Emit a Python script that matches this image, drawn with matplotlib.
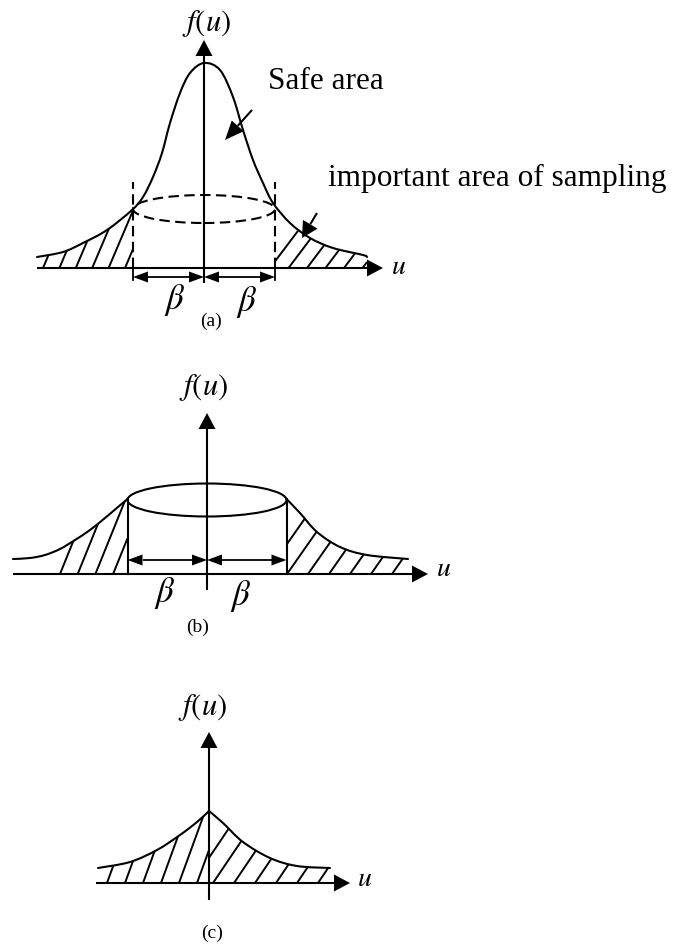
import numpy as np
import matplotlib
matplotlib.use("Agg")
import matplotlib.pyplot as plt
from matplotlib.path import Path
from matplotlib.patches import Polygon, Ellipse, PathPatch
from matplotlib.collections import LineCollection

plt.rcParams["mathtext.fontset"] = "stix"
plt.rcParams["font.family"] = ["Liberation Serif", "DejaVu Serif"]

W, H = 676, 947

# ---- panel (a): bell-shaped density ----
a_u = [-167, -141, -121, -97, -72, -61, -51, -42, -34, -24, -14, 0,
       16, 29, 39, 49, 59, 69, 86, 106, 129, 159, 163]
a_f = [11, 16, 25, 38, 58, 71, 91, 115, 145, 175, 195, 205,
       198, 171, 138, 108, 85, 65, 45, 30, 20, 13, 11]
a_beta = 71
a_ring_f = 59

# ---- panel (b): flattened density with a disc on top ----
b_left_u = [-194, -177, -162, -147, -132, -117, -102, -89, -79.5]
b_left_f = [15, 16, 19, 25, 34, 44, 56, 67, 75]
b_right_u = [79.5, 93, 110, 133, 160, 201]
b_right_f = [75, 61, 42, 27, 19, 15]
b_beta = 79.5
b_ring_f = 74

# ---- panel (c): sharp-peaked density ----
c_left_u = [-111, -79, -52, -29, -12, 0]
c_left_f = [15, 21, 33, 48, 61, 72]
c_right_u = [0, 14, 34, 61, 88, 121]
c_right_f = [72, 60, 41, 25, 17, 15]

LW = 1.5
HLW = 1.4
fig = plt.figure(figsize=(W / 100, H / 100), dpi=100)


def panel_axes(ox, oy, top, bottom):
    ax = fig.add_axes([0, 1 - bottom / H, 1, (bottom - top) / H])
    ax.set_xlim(-ox, W - ox)
    ax.set_ylim(oy - bottom, oy - top)
    ax.axis("off")
    return ax


def smooth(u, f):
    pts = np.column_stack([u, f]).astype(float)
    n = len(pts)
    verts, codes = [pts[0]], [Path.MOVETO]
    for i in range(n - 1):
        p0, p1 = pts[max(i - 1, 0)], pts[i]
        p2, p3 = pts[i + 1], pts[min(i + 2, n - 1)]
        verts += [p1 + (p2 - p0) / 6, p2 - (p3 - p1) / 6, p2]
        codes += [Path.CURVE4] * 3
    return verts, codes


def draw_curve(ax, u, f):
    v, c = smooth(u, f)
    ax.add_patch(PathPatch(Path(v, c), fill=False, lw=LW, color="k",
                           capstyle="round"))
    return v, c


def area_path(pieces, u_start, u_end):
    verts, codes = [], []
    for k, (v, c) in enumerate(pieces):
        verts += v
        codes += c if k == 0 else [Path.LINETO] + c[1:]
    verts += [(u_end, 0), (u_start, 0), (u_start, 0)]
    codes += [Path.LINETO, Path.LINETO, Path.CLOSEPOLY]
    return Path(verts, codes)


def hatch(ax, clip, intercepts, angle, u_lo, u_hi):
    t = np.tan(np.radians(angle))
    segs = []
    for xb in intercepts:
        u0 = max(xb, u_lo)
        u1 = min(xb + 300 / t, u_hi)
        if u1 > u0:
            segs.append([(u0, (u0 - xb) * t), (u1, (u1 - xb) * t)])
    lc = LineCollection(segs, colors="k", linewidths=HLW)
    lc.set_clip_path(clip, ax.transData)
    ax.add_collection(lc)


def arrow(ax, start, tip, head_len, head_w, lw=LW):
    s, e = np.array(start, float), np.array(tip, float)
    d = (e - s) / np.hypot(*(e - s))
    n = np.array([-d[1], d[0]])
    base = e - d * head_len
    ax.plot([s[0], base[0]], [s[1], base[1]], color="k", lw=lw,
            solid_capstyle="butt")
    ax.add_patch(Polygon([e, base + n * head_w / 2, base - n * head_w / 2],
                         closed=True, color="k", lw=0))


def axes_arrows(ax, u0, u1, f0, f1):
    arrow(ax, (u0, 0), (u1, 0), 16, 17)
    arrow(ax, (0, f0), (0, f1), 16, 17)


def beta_arrows(ax, beta, f):
    for a, b in [(0, -beta), (-beta, 0), (0, beta), (beta, 0)]:
        mid = (a + b) / 2
        arrow(ax, (mid, f), (b, f), 15, 11, lw=1.3)


math = dict(ha="center", va="center")
FU, BETA, U, CAP = 22, 25, 20, 14

# ================= (a) =================
ax = panel_axes(204, 268, 0, 340)
va_, ca_ = draw_curve(ax, a_u, a_f)
clip_a = area_path([(va_, ca_)], a_u[0], a_u[-1])
hatch(ax, clip_a, np.arange(-161, -a_beta, 16.4), 67, a_u[0], -a_beta)
hatch(ax, clip_a, np.arange(66, 170, 18.5), 53, a_beta, a_u[-1])
axes_arrows(ax, -167, 179, -15, 228)
dash = (0, (5.0, 2.6))
for s in (-1, 1):
    ax.plot([s * a_beta, s * a_beta], [0, 86], color="k", lw=LW, ls=dash)
    ax.plot([s * a_beta, s * a_beta], [0, -12], color="k", lw=1.3)
ax.add_patch(Ellipse((0, a_ring_f), 2 * a_beta, 28, fill=False, lw=LW,
                     ls=dash, color="k"))
beta_arrows(ax, a_beta, -9)
ax.text(3, 245, r"$f\left(u\right)$", fontsize=FU, **math)
ax.text(195, 1, r"$u$", fontsize=U, **math)
ax.text(-29, -32, r"$\beta$", fontsize=BETA, **math)
ax.text(43, -34, r"$\beta$", fontsize=BETA, **math)
ax.text(7, -53, "(a)", fontsize=CAP, **math)
ax.text(64, 179, "Safe area", fontsize=22.5, ha="left", va="baseline")
ax.text(124, 82, "important area of sampling", fontsize=22.5,
        ha="left", va="baseline")
arrow(ax, (48, 158), (21, 128), 19, 16)
arrow(ax, (113, 55), (98, 30), 16, 17)

# ================= (b) =================
ax = panel_axes(207, 574, 340, 650)
vl, cl = draw_curve(ax, b_left_u, b_left_f)
vr, cr = draw_curve(ax, b_right_u, b_right_f)
clip_b = area_path([(vl, cl), (vr, cr)], b_left_u[0], b_right_u[-1])
hatch(ax, clip_b, np.arange(-147, -b_beta, 17.7), 68, -200, -b_beta)
hatch(ax, clip_b, np.arange(59, 205, 21), 55, b_beta, 205)
axes_arrows(ax, -194, 221, -16, 161)
for s in (-1, 1):
    ax.plot([s * b_beta, s * b_beta], [0, b_left_f[-1]], color="k", lw=LW)
ax.add_patch(Ellipse((0, b_ring_f), 2 * b_beta, 33, fill=False, lw=LW,
                     color="k"))
beta_arrows(ax, b_beta, 14)
ax.text(-3, 187, r"$f\left(u\right)$", fontsize=FU, **math)
ax.text(237, 5, r"$u$", fontsize=U, **math)
ax.text(-42, -19, r"$\beta$", fontsize=BETA, **math)
ax.text(34, -22, r"$\beta$", fontsize=BETA, **math)
ax.text(-9, -53, "(b)", fontsize=CAP, **math)

# ================= (c) =================
ax = panel_axes(209, 883, 650, 947)
vl, cl = draw_curve(ax, c_left_u, c_left_f)
vr, cr = draw_curve(ax, c_right_u, c_right_f)
clip_c = area_path([(vl, cl), (vr, cr)], c_left_u[0], c_right_u[-1])
hatch(ax, clip_c, np.arange(-102, 0, 18), 70, -120, 0)
hatch(ax, clip_c, np.arange(-17, 125, 21), 56, 0, 125)
axes_arrows(ax, -113, 141, -17, 151)
ax.text(-6, 176, r"$f\left(u\right)$", fontsize=FU, **math)
ax.text(156, 4, r"$u$", fontsize=U, **math)
ax.text(3, -50, "(c)", fontsize=CAP, **math)

fig.savefig("out.png", dpi=100, facecolor="white")
